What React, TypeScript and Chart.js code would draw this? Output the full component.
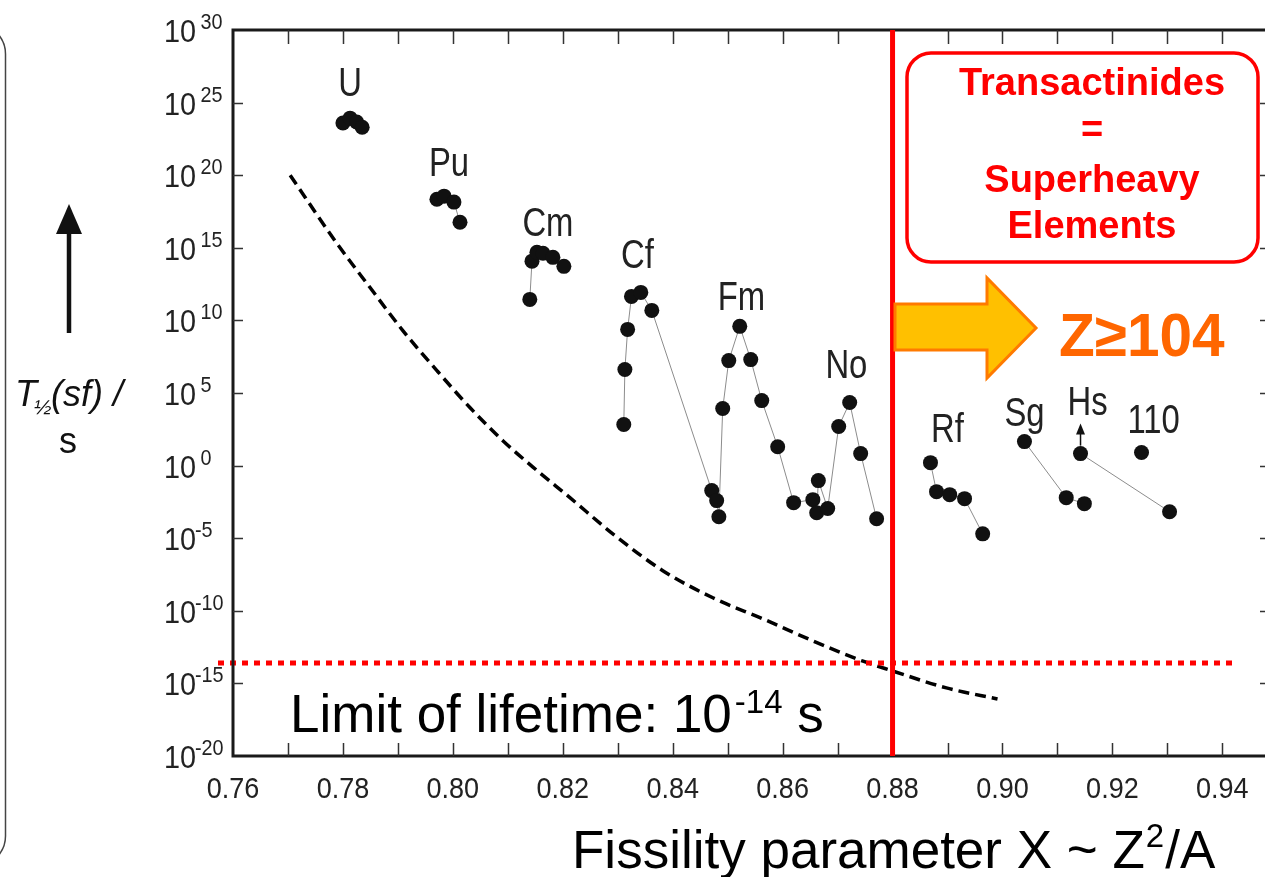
import React, { useEffect, useRef } from "react";
import { Chart, registerables } from "chart.js";

Chart.register(...registerables);

const W = 1265;
const H = 877;
const FONT = "'Liberation Sans', Arial, Helvetica, sans-serif";

// ---- data (fissility parameter X, spontaneous-fission half-life in s) ----
const uX = [0.78, 0.7813, 0.7825, 0.7835];
const uY = [3.9e23, 8.5e23, 4.6e23, 2.0e23];

const puX = [0.7971, 0.7984, 0.8002, 0.8013];
const puY = [2.2e18, 3.6e18, 1.4e18, 5.7e16];

const cmX = [0.814, 0.8144, 0.8153, 0.8164, 0.8182, 0.8202];
const cmY = [2.8e11, 1.2e14, 4.9e14, 4.2e14, 2.2e14, 5.3e13];

const cfX = [0.8311, 0.8313, 0.8318, 0.8325, 0.8342, 0.8362];
const cfY = [6.7e2, 4.2e6, 2.4e9, 4.5e11, 8.5e11, 4.9e10];

const fmX = [0.8471, 0.848, 0.8484, 0.8491, 0.8502, 0.8522, 0.8542, 0.8562, 0.8591, 0.862];
const fmY = [1.9e-2, 3.9e-3, 3.0e-4, 8.5e3, 1.7e7, 3.9e9, 2.0e7, 3.0e4, 20, 2.8e-3];

const noX = [0.8655, 0.8662, 0.8665, 0.8682, 0.8702, 0.8722, 0.8742, 0.8771];
const noY = [4.5e-3, 5.7e-4, 9.3e-2, 1.1e-3, 4.9e2, 2.2e4, 6.7, 2.2e-4];

const rfX = [0.8869, 0.888, 0.8904, 0.8931, 0.8964];
const rfY = [1.6, 1.6e-2, 1.0e-2, 5.3e-3, 2.0e-5];

const sgX = [0.904, 0.9116, 0.9149];
const sgY = [45, 6.2e-3, 2.4e-3];

const hsX = [0.9142, 0.9304];
const hsY = [6.7, 6.7e-4];

const e110X = [0.9253];
const e110Y = [7.9];

// liquid-drop estimate (dashed curve)
const curveX = [0.7704, 0.7789, 0.7849, 0.7909, 0.7971, 0.8031, 0.8091, 0.8153, 0.8213, 0.8291, 0.8382, 0.8473, 0.8564, 0.8655, 0.8745, 0.88, 0.8898, 0.8991];
const curveY = [1e20, 2.0e15, 1.9e12, 2.0e9, 3.5e6, 1.0e4, 52, 0.46, 6.2e-3, 2.0e-5, 5.8e-8, 7.9e-10, 2.8e-11, 8.5e-13, 3.5e-14, 7.2e-15, 4.9e-16, 8.5e-17];

// element labels
const labelNames = ["U", "Pu", "Cm", "Cf", "Fm", "No", "Rf", "Sg", "Hs", "110"];
const labelX = [0.7813, 0.7993, 0.8173, 0.8336, 0.8525, 0.8716, 0.89, 0.904, 0.9155, 0.9275];
const labelY = [2.5e26, 7.9e20, 6.3e16, 4.0e14, 5.0e11, 1.0e7, 4.2e2, 5.2e3, 3.0e4, 1.7e3];

// axes
const xMin = 0.76;
const xMax = 0.9464;
const xTickLabels = ["0.76", "0.78", "0.80", "0.82", "0.84", "0.86", "0.88", "0.90", "0.92", "0.94"];
const xMinorStep = 0.01;
const yExponents = [30, 25, 20, 15, 10, 5, 0, -5, -10, -15, -20];

// reference lines
const transactinideX = 0.88;
const lifetimeLimit = 2.5e-14;

function txt(ctx: CanvasRenderingContext2D, s: string, x: number, y: number, font: string, color: string, align: CanvasTextAlign = "left", sx = 1) {
  ctx.save();
  ctx.font = font;
  ctx.fillStyle = color;
  ctx.textAlign = align;
  ctx.textBaseline = "alphabetic";
  ctx.translate(x, y);
  ctx.scale(sx, 1);
  ctx.fillText(s, 0, 0);
  ctx.restore();
}

function roundRect(ctx: CanvasRenderingContext2D, x: number, y: number, w: number, h: number, r: number) {
  ctx.beginPath();
  ctx.moveTo(x + r, y);
  ctx.lineTo(x + w - r, y);
  ctx.arcTo(x + w, y, x + w, y + r, r);
  ctx.lineTo(x + w, y + h - r);
  ctx.arcTo(x + w, y + h, x + w - r, y + h, r);
  ctx.lineTo(x + r, y + h);
  ctx.arcTo(x, y + h, x, y + h - r, r);
  ctx.lineTo(x, y + r);
  ctx.arcTo(x, y, x + r, y, r);
  ctx.closePath();
}

const overlay = {
  id: "overlay",
  afterDatasetsDraw(chart: any) {
    const { ctx, chartArea: a, scales } = chart;
    const xs = scales.x;
    const ys = scales.y;
    ctx.save();

    // red dotted lifetime limit
    const yl = ys.getPixelForValue(lifetimeLimit);
    ctx.strokeStyle = "#ff0000";
    ctx.lineWidth = 5;
    ctx.setLineDash([6, 6]);
    ctx.beginPath();
    ctx.moveTo(218, yl);
    ctx.lineTo(1234, yl);
    ctx.stroke();
    ctx.setLineDash([]);

    // frame
    ctx.strokeStyle = "#1a1a1a";
    ctx.lineWidth = 3;
    ctx.beginPath();
    ctx.moveTo(W + 3, a.top);
    ctx.lineTo(a.left, a.top);
    ctx.lineTo(a.left, a.bottom);
    ctx.lineTo(W + 3, a.bottom);
    ctx.stroke();

    // x ticks
    ctx.lineWidth = 1.5;
    ctx.strokeStyle = "#333";
    for (let i = 1; i <= 18; i++) {
      const px = Math.round(xs.getPixelForValue(xMin + i * xMinorStep)) + 0.5;
      ctx.beginPath();
      ctx.moveTo(px, a.bottom);
      ctx.lineTo(px, a.bottom - 13);
      ctx.moveTo(px, a.top);
      ctx.lineTo(px, a.top + 14);
      ctx.stroke();
    }
    // y ticks
    for (const e of yExponents) {
      const py = Math.round(ys.getPixelForValue(Math.pow(10, e))) + 0.5;
      if (e === 30 || e === -20) continue;
      ctx.beginPath();
      ctx.moveTo(a.left, py);
      ctx.lineTo(a.left + 10, py);
      ctx.moveTo(W, py);
      ctx.lineTo(W - 5, py);
      ctx.stroke();
    }

    // x tick labels
    for (const l of xTickLabels) {
      const px = xs.getPixelForValue(parseFloat(l));
      txt(ctx, l, px, 798, `30px ${FONT}`, "#222", "center", 0.9);
    }
    // y tick labels
    for (const e of yExponents) {
      const py = ys.getPixelForValue(Math.pow(10, e));
      txt(ctx, "10", 164, py + 12, `32px ${FONT}`, "#222", "left", 0.9);
      txt(ctx, e >= 0 ? " " + e : String(e), 195, py - 1, `22px ${FONT}`, "#222", "left", 0.9);
    }

    // element labels
    for (let i = 0; i < labelNames.length; i++) {
      const px = xs.getPixelForValue(labelX[i]);
      const py = ys.getPixelForValue(labelY[i]);
      txt(ctx, labelNames[i], px, py + 14, `40px ${FONT}`, "#222", "center", 0.82);
    }

    // Hs arrow (lower limit)
    const hx = xs.getPixelForValue(hsX[0]);
    const hy = ys.getPixelForValue(hsY[0]);
    ctx.strokeStyle = "#111";
    ctx.fillStyle = "#111";
    ctx.lineWidth = 1.5;
    ctx.beginPath();
    ctx.moveTo(hx, hy - 8);
    ctx.lineTo(hx, hy - 20);
    ctx.stroke();
    ctx.beginPath();
    ctx.moveTo(hx, hy - 30);
    ctx.lineTo(hx - 4.5, hy - 19);
    ctx.lineTo(hx + 4.5, hy - 19);
    ctx.closePath();
    ctx.fill();

    // red transactinide line
    const rx = xs.getPixelForValue(transactinideX);
    ctx.strokeStyle = "#ff0000";
    ctx.lineWidth = 5;
    ctx.beginPath();
    ctx.moveTo(rx, a.top);
    ctx.lineTo(rx, a.bottom);
    ctx.stroke();

    // Transactinides box
    ctx.fillStyle = "#ffffff";
    roundRect(ctx, 907, 53, 351, 209, 24);
    ctx.fill();
    ctx.strokeStyle = "#ff0000";
    ctx.lineWidth = 3.5;
    ctx.stroke();
    const bf = `bold 38px ${FONT}`;
    txt(ctx, "Transactinides", 1092, 95, bf, "#ff0000", "center");
    txt(ctx, "=", 1092, 142, bf, "#ff0000", "center");
    txt(ctx, "Superheavy", 1092, 192, bf, "#ff0000", "center");
    txt(ctx, "Elements", 1092, 238, bf, "#ff0000", "center");

    // block arrow
    ctx.beginPath();
    ctx.moveTo(895, 304);
    ctx.lineTo(987, 304);
    ctx.lineTo(987, 278);
    ctx.lineTo(1036, 328);
    ctx.lineTo(987, 378);
    ctx.lineTo(987, 350);
    ctx.lineTo(895, 350);
    ctx.closePath();
    ctx.fillStyle = "#ffc000";
    ctx.fill();
    ctx.strokeStyle = "#ff7a00";
    ctx.lineWidth = 3;
    ctx.stroke();
    txt(ctx, "Z\u2265104", 1059, 356, `bold 61px ${FONT}`, "#ff6600", "left", 0.96);

    // limit of lifetime text
    {
      const f1 = `53px ${FONT}`;
      ctx.font = f1;
      const s1 = "Limit of lifetime: 10";
      const w1 = ctx.measureText(s1).width;
      txt(ctx, s1, 290, 732, f1, "#000");
      const f2 = `33px ${FONT}`;
      ctx.font = f2;
      const s2 = "-14";
      const w2 = ctx.measureText(s2).width;
      txt(ctx, s2, 290 + w1 + 3, 713, f2, "#000");
      txt(ctx, " s", 290 + w1 + 3 + w2, 732, f1, "#000");
    }

    // x axis title
    {
      const f1 = `53px ${FONT}`;
      ctx.font = f1;
      const s1 = "Fissility parameter X ~ Z";
      const w1 = ctx.measureText(s1).width;
      txt(ctx, s1, 572, 868, f1, "#000");
      const f2 = `33px ${FONT}`;
      ctx.font = f2;
      const w2 = ctx.measureText("2").width;
      txt(ctx, "2", 572 + w1 + 1, 847, f2, "#000");
      txt(ctx, "/A", 572 + w1 + 2 + w2, 868, f1, "#000");
    }

    // y axis title
    {
      const fi = `italic 36px ${FONT}`;
      ctx.font = fi;
      const wT = ctx.measureText("T").width;
      txt(ctx, "T", 15, 406, fi, "#111");
      txt(ctx, "\u00bd", 15 + wT - 3, 414, `italic 21px ${FONT}`, "#111");
      txt(ctx, "(sf) /", 15 + wT + 14, 406, fi, "#111");
      txt(ctx, "s", 68, 453, `36px ${FONT}`, "#111", "center");
      // up arrow
      ctx.strokeStyle = "#111";
      ctx.fillStyle = "#111";
      ctx.lineWidth = 4.5;
      ctx.beginPath();
      ctx.moveTo(69, 333);
      ctx.lineTo(69, 232);
      ctx.stroke();
      ctx.beginPath();
      ctx.moveTo(69, 204);
      ctx.lineTo(56, 234);
      ctx.lineTo(82, 234);
      ctx.closePath();
      ctx.fill();
    }

    // left slide frame
    ctx.strokeStyle = "#444";
    ctx.lineWidth = 1.5;
    roundRect(ctx, -60, 24, 65.5, 842, 30);
    ctx.stroke();

    ctx.restore();
  },
};

export default function App() {
  const ref = useRef<HTMLCanvasElement>(null);
  useEffect(() => {
    const canvas = ref.current;
    if (!canvas) return;
    const pts = (xs: number[], ys: number[]) => xs.map((x, i) => ({ x, y: ys[i] }));
    const group = (data: { x: number; y: number }[]) => ({
      data,
      showLine: true,
      borderColor: "#8c8c8c",
      borderWidth: 1,
      pointRadius: 7.5,
      pointHoverRadius: 7.5,
      pointBackgroundColor: "#111",
      pointBorderColor: "#111",
      pointBorderWidth: 0,
    });
    const chart = new Chart(canvas, {
      type: "scatter",
      data: {
        datasets: [
          group(pts(uX, uY)),
          group(pts(puX, puY)),
          group(pts(cmX, cmY)),
          group([...pts(cfX, cfY), ...pts(fmX, fmY), ...pts(noX, noY)]),
          group(pts(rfX, rfY)),
          group(pts(sgX, sgY)),
          group(pts(hsX, hsY)),
          group(pts(e110X, e110Y)),
          {
            data: pts(curveX, curveY),
            showLine: true,
            borderColor: "#000",
            borderWidth: 3.5,
            borderDash: [11, 6],
            pointRadius: 0,
            cubicInterpolationMode: "monotone",
          },
        ] as any,
      },
      options: {
        responsive: false,
        animation: false,
        devicePixelRatio: 1,
        events: [],
        layout: { padding: { left: 233, top: 30, right: 0, bottom: 121 } },
        plugins: { legend: { display: false }, tooltip: { enabled: false } },
        scales: {
          x: { type: "linear", min: xMin, max: xMax, display: false },
          y: { type: "logarithmic", min: 1e-20, max: 1e30, display: false },
        },
      },
      plugins: [overlay as any],
    });
    return () => chart.destroy();
  }, []);
  return (
    <div style={{ position: "fixed", left: 0, top: 0, width: W, height: H, background: "#fff", overflow: "hidden" }}>
      <canvas ref={ref} width={W} height={H} style={{ display: "block", width: W, height: H }} />
    </div>
  );
}
